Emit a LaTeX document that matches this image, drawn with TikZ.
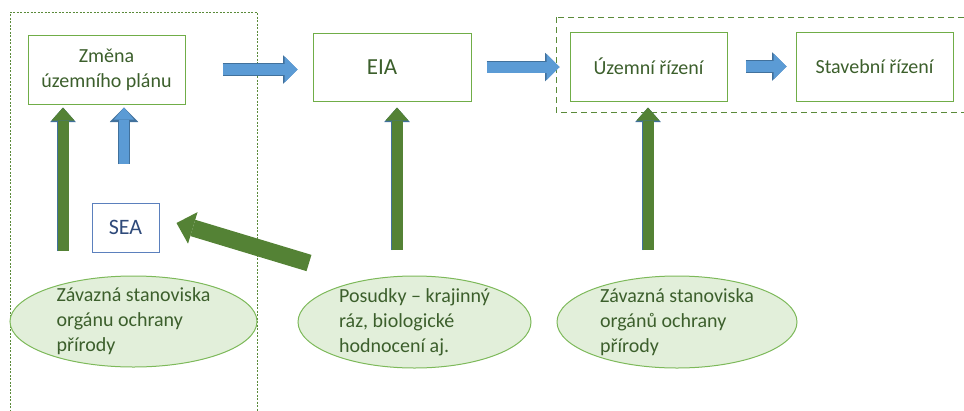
\documentclass[tikz,border=0pt]{standalone}
\usepackage{fontspec}
\setmainfont{Carlito}
\usetikzlibrary{shapes.geometric,arrows.meta,calc}

\definecolor{boxgreen}{HTML}{70AD47}
\definecolor{textgreen}{HTML}{3C5F2C}
\definecolor{ellfill}{HTML}{E2EFDA}
\definecolor{ellline}{HTML}{7DB95A}
\definecolor{dashgreen}{HTML}{5A8A3A}
\definecolor{arrowblue}{HTML}{5B9BD5}
\definecolor{edgeblue}{HTML}{41719C}
\definecolor{arrowgreen}{HTML}{548235}
\definecolor{seablue}{HTML}{5B80BD}
\definecolor{seatext}{HTML}{2F4A7A}

\tikzset{
  box/.style={draw=boxgreen, line width=1pt, minimum width=157pt, minimum height=69pt,
    inner sep=0pt, text=textgreen, font=\fontsize{20}{25}\selectfont, align=center},
  oval/.style={ellipse, draw=ellline, fill=ellfill, line width=1pt,
    minimum width=#1, minimum height=91pt, inner sep=0pt},
  ovaltext/.style={text=textgreen, font=\fontsize{20}{25}\selectfont, align=left},
  bluearrow/.style={draw=arrowblue, line width=11pt,
    -{Triangle[length=13pt,width=26pt,line width=0pt]},
    preaction={draw=edgeblue, line width=12.5pt,
      -{Triangle[length=14.5pt,width=28.5pt,line width=0pt]}}},
  greenarrow/.style={draw=arrowgreen, line width=11pt,
    -{Triangle[length=13pt,width=23pt,line width=0pt]},
    preaction={draw=edgeblue, line width=12.5pt,
      -{Triangle[length=14.5pt,width=25.5pt,line width=0pt]}}},
  bigarrow/.style={draw=arrowgreen, line width=17pt,
    -{Triangle[length=17pt,width=33pt,line width=0pt]}}
}

\begin{document}
\begin{tikzpicture}[x=1pt, y=-1pt]
  \useasboundingbox (0,0) rectangle (964,410);

  % Dashed frames
  \draw[dashgreen, line width=1pt, dash pattern=on 2pt off 1.5pt]
    (10,415) -- (10,12) -- (257,12) -- (257,415);
  \draw[dashgreen, line width=1pt, dash pattern=on 6pt off 4pt]
    (556,17) rectangle (970,112);

  % Process boxes
  \node[box] (zmena) at (106.5,69.5) {Změna\\územního plánu};
  \node[box, minimum width=158pt, minimum height=68pt, font=\fontsize{23}{28}\selectfont] (eia) at (392,67) {\hspace*{-20pt}EIA};
  \node[box] (uzemni) at (648.5,66.5) {Územní řízení};
  \node[box] (stavebni) at (874.5,66.5) {Stavební řízení};
  \node[draw=seablue, line width=1pt, minimum width=67pt, minimum height=49pt, inner sep=0pt,
    text=seatext, font=\fontsize{22}{26}\selectfont] (sea) at (125.5,227.5) {SEA};

  % Opinions
  \node[oval=247pt, label={[ovaltext]center:{Závazná stanoviska\\orgánu ochrany\\přírody}}]
    (stanovisko1) at (133.5,321.5) {};
  \node[oval=233pt, minimum height=92pt, label={[ovaltext]center:{Posudky – krajinný\\ráz, biologické\\hodnocení aj.}}]
    (posudky) at (414.5,322) {};
  \node[oval=240pt, minimum height=92pt, label={[ovaltext]center:{Závazná stanoviska\\orgánů ochrany\\přírody}}]
    (stanovisko2) at (677,322) {};

  % Tails of the vertical arrows
  \coordinate (g1) at (63,251);
  \coordinate (b1) at (124,164);
  \coordinate (g2) at (397,250);
  \coordinate (g3) at (648,250);
  \coordinate (d1) at (309,263);

  % Flow between the steps
  \draw[bluearrow, shorten <=37pt, shorten >=15pt] (zmena.east) -- (zmena.east -| eia.west);
  \draw[bluearrow, shorten <=15pt, shorten >=10pt] (eia.east) -- (eia.east -| uzemni.west);
  \draw[bluearrow, shorten <=18pt, shorten >=9pt] (uzemni.east) -- (uzemni.east -| stavebni.west);

  % Inputs from below
  \draw[greenarrow, shorten >=3pt] (g1) -- (g1 |- zmena.south);
  \draw[bluearrow, line width=10pt, shorten >=3pt,
    -{Triangle[length=12pt,width=20pt,line width=0pt]},
    preaction={draw=edgeblue, line width=11.5pt,
      -{Triangle[length=13.5pt,width=22.5pt,line width=0pt]}}] (b1) -- (b1 |- zmena.south);
  \draw[greenarrow, shorten >=6pt] (g2) -- (g2 |- eia.south);
  \draw[greenarrow, shorten >=6pt] (g3) -- (g3 |- uzemni.south);
  \draw[bigarrow] (d1) -- ($(sea.east)+(17,-4.5)$);

\end{tikzpicture}
\end{document}
